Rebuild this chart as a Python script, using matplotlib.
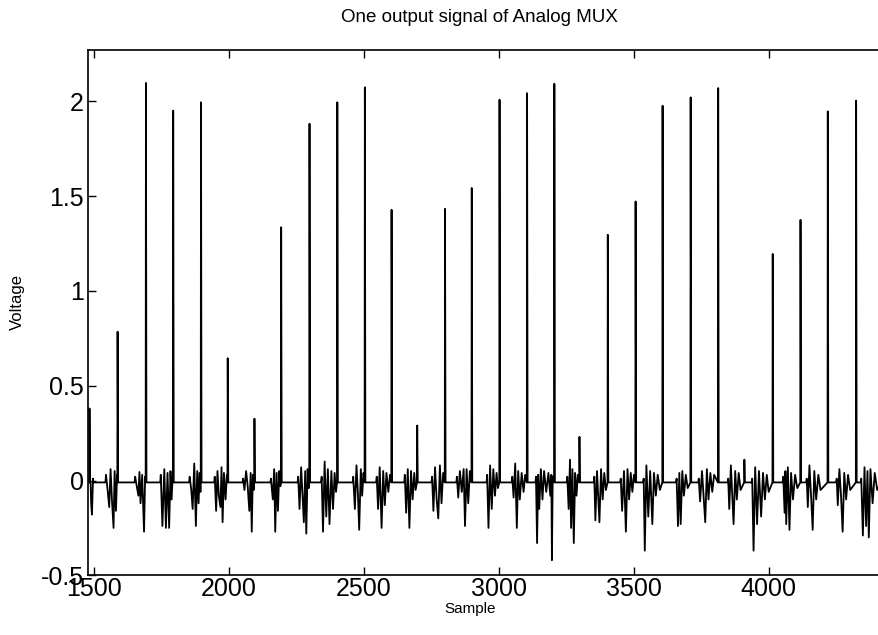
import matplotlib
matplotlib.use("Agg")
from matplotlib import pyplot as plt

# spike positions (sample) and peak voltage
spike_sample = [1484, 1588, 1693, 1794, 1897, 1996, 2095, 2194, 2299, 2402,
                2504, 2603, 2698, 2801, 2900, 3003, 3105, 3206, 3299, 3404,
                3507, 3607, 3711, 3813, 3910, 4015, 4118, 4219, 4324, 4417]
spike_height = [0.38, 0.785, 2.097, 1.951, 1.995, 0.645, 0.326, 1.336, 1.882, 1.995,
                2.074, 1.428, 0.29, 1.433, 1.543, 2.009, 2.043, 2.093, 0.23, 1.296,
                1.472, 1.977, 2.021, 2.070, 0.11, 1.195, 1.375, 1.947, 2.004, 1.01]

# oscillation burst before each spike: (offset from spike, voltage)
bursts = [
    [],
    [(-98, -0.12), (-95, -0.18), (-91, 0.01), (-43, 0.03), (-37, -0.05), (-31, -0.14), (-26, 0.06),
     (-21, -0.10), (-15, -0.25), (-11, 0.05), (-6, -0.16), (-2, 0.03)],
    [(-40, 0.02), (-33, -0.04), (-28, -0.08), (-24, 0.045), (-20, -0.12), (-14, 0.03), (-7, -0.27), (-3, 0.02)],
    [(-46, 0.03), (-40, -0.24), (-33, 0.06), (-27, -0.25), (-21, 0.04), (-15, -0.25), (-10, 0.05), (-6, -0.10), (-2, 0.02)],
    [(-42, 0.02), (-36, -0.05), (-31, -0.15), (-25, 0.09), (-19, -0.24), (-14, 0.05), (-9, -0.12), (-5, 0.04), (-2, -0.06)],
    [(-48, 0.02), (-43, -0.16), (-38, 0.05), (-33, -0.08), (-27, -0.14), (-23, 0.07), (-19, -0.22), (-14, 0.04), (-8, -0.10), (-3, 0.03)],
    [(-42, 0.01), (-37, -0.05), (-31, 0.05), (-25, -0.03), (-19, -0.16), (-14, 0.04), (-10, -0.27), (-6, 0.03), (-3, -0.05)],
    [(-38, 0.01), (-31, -0.10), (-26, 0.06), (-22, -0.27), (-17, 0.04), (-12, -0.16), (-7, 0.05), (-3, -0.03)],
    [(-42, 0.02), (-37, -0.15), (-31, 0.07), (-26, -0.08), (-21, -0.22), (-16, 0.05), (-12, -0.28), (-7, 0.06), (-3, -0.04)],
    [(-58, 0.02), (-53, -0.27), (-47, 0.10), (-41, -0.19), (-35, 0.06), (-29, -0.23), (-22, 0.05), (-16, -0.15), (-10, 0.04), (-5, -0.06)],
    [(-43, 0.02), (-37, -0.15), (-31, 0.08), (-26, -0.06), (-21, -0.26), (-15, 0.06), (-10, -0.08), (-5, 0.04)],
    [(-55, 0.02), (-50, -0.15), (-44, 0.07), (-37, -0.25), (-31, 0.05), (-25, -0.13), (-19, 0.04), (-12, -0.06), (-6, 0.03)],
    [(-46, 0.03), (-41, -0.17), (-35, 0.06), (-29, -0.25), (-23, 0.05), (-17, -0.10), (-11, 0.04), (-6, -0.05)],
    [(-48, 0.02), (-43, -0.16), (-37, 0.07), (-31, -0.10), (-25, -0.20), (-19, 0.08), (-13, -0.12), (-7, 0.04)],
    [(-55, 0.02), (-50, -0.09), (-44, 0.05), (-37, -0.06), (-30, 0.06), (-25, -0.24), (-19, 0.06), (-13, -0.12), (-7, 0.05)],
    [(-46, 0.03), (-41, -0.25), (-35, 0.08), (-29, -0.15), (-23, 0.06), (-17, -0.08), (-11, 0.04), (-6, -0.04)],
    [(-55, 0.02), (-50, -0.09), (-44, 0.09), (-38, -0.25), (-33, 0.05), (-27, -0.10), (-20, 0.04), (-13, -0.06), (-7, 0.03)],
    [(-68, 0.02), (-64, -0.33), (-60, 0.03), (-56, -0.15), (-50, 0.06), (-44, -0.10), (-38, 0.05), (-30, -0.06),
     (-22, 0.04), (-15, -0.08), (-11, 0.03), (-9, -0.42), (-6, 0.02)],
    [(-45, 0.02), (-40, -0.15), (-35, 0.11), (-31, -0.25), (-26, 0.06), (-21, -0.33), (-16, 0.04), (-11, -0.08), (-6, 0.03)],
    [(-50, 0.02), (-46, -0.21), (-40, 0.05), (-31, -0.22), (-25, 0.06), (-19, -0.10), (-13, 0.04), (-7, -0.05)],
    [(-55, 0.01), (-50, -0.16), (-43, 0.05), (-36, -0.27), (-30, 0.06), (-24, -0.10), (-18, 0.04), (-12, -0.06), (-6, 0.03)],
    [(-70, 0.01), (-66, -0.37), (-60, 0.08), (-53, -0.19), (-46, 0.05), (-38, -0.23), (-32, 0.04), (-25, -0.08), (-18, 0.03), (-10, -0.05)],
    [(-52, 0.01), (-47, -0.24), (-42, 0.04), (-37, -0.23), (-31, 0.05), (-25, -0.08), (-18, 0.03), (-11, -0.04)],
    [(-72, 0.01), (-67, -0.11), (-60, 0.05), (-48, -0.22), (-42, 0.06), (-36, -0.10), (-29, 0.04), (-22, -0.06), (-15, 0.03)],
    [(-60, 0.01), (-56, -0.15), (-50, 0.08), (-40, -0.23), (-34, 0.05), (-28, -0.10), (-21, 0.04), (-14, -0.05)],
    [(-76, 0.01), (-71, -0.37), (-65, 0.07), (-58, -0.23), (-51, 0.05), (-43, -0.19), (-36, 0.04), (-29, -0.10), (-22, 0.03), (-15, -0.06)],
    [(-64, 0.02), (-59, -0.17), (-56, 0.05), (-53, -0.23), (-47, 0.07), (-41, -0.26), (-35, 0.04), (-28, -0.10), (-20, 0.03), (-12, -0.04)],
    [(-78, 0.01), (-74, -0.14), (-68, 0.08), (-62, -0.08), (-56, -0.26), (-50, 0.05), (-43, -0.10), (-35, 0.03), (-27, -0.05)],
    [(-72, 0.01), (-68, -0.13), (-62, 0.06), (-56, -0.08), (-50, -0.27), (-44, 0.04), (-37, -0.10), (-30, 0.03), (-22, -0.05)],
    [(-74, 0.01), (-68, -0.29), (-62, 0.07), (-56, -0.24), (-51, 0.05), (-46, -0.30), (-40, 0.06), (-32, -0.12), (-24, 0.04), (-15, -0.05)],
]
baseline = -0.01

x = []
y = []
for s, h, burst in zip(spike_sample, spike_height, bursts):
    prev = None
    for off, v in burst:
        # flat trace between points that are far apart
        if prev is None or off - prev > 12:
            if prev is not None:
                x.append(s + prev + 2)
                y.append(baseline)
            x.append(s + off - 2)
            y.append(baseline)
        x.append(s + off)
        y.append(v)
        prev = off
    x += [s - 1, s, s + 2]
    y += [baseline, h, baseline]

plt.rcParams['font.family'] = ['Liberation Sans', 'DejaVu Sans']

fig = plt.figure(figsize=(8.79, 6.35), dpi=100)
ax = fig.add_axes([0.1, 0.094, 0.905, 0.827])
ax.plot(x, y, color='black', linewidth=1.3)

ax.set_xlim(1478, 4425)
ax.set_ylim(-0.5, 2.27)
ax.set_xticks([1500, 2000, 2500, 3000, 3500, 4000])
ax.set_yticks([-0.5, 0, 0.5, 1, 1.5, 2])
ax.set_yticklabels(['-0.5', '0', '0.5', '1', '1.5', '2'])
ax.tick_params(direction='in', length=6, width=1, labelsize=18, top=True, right=False)
ax.tick_params(axis='x', pad=1)
ax.tick_params(axis='y', pad=3)
ax.spines['right'].set_visible(False)
for sp in ['left', 'top', 'bottom']:
    ax.spines[sp].set_linewidth(1.2)

fig.text(0.545, 0.972, 'One output signal of Analog MUX', ha='center', va='center', fontsize=13.5)
fig.text(0.535, 0.041, 'Sample', ha='center', va='center', fontsize=11)
fig.text(0.02, 0.524, 'Voltage', ha='center', va='center', rotation=90, fontsize=12)

fig.savefig('out.png', dpi=100)
